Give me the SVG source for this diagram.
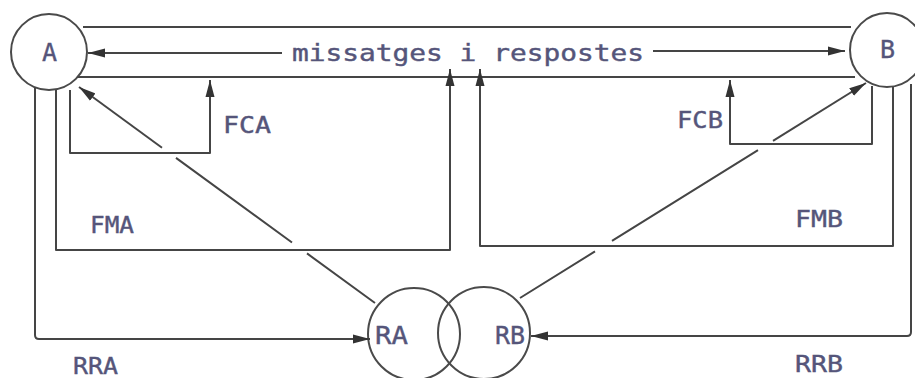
<svg xmlns="http://www.w3.org/2000/svg" width="915" height="378" viewBox="0 0 915 378">
<style>
.ln{fill:none;stroke:#454545;stroke-width:2;stroke-linejoin:round}
.nd{fill:none;stroke:#4a4a4a;stroke-width:2}
.tx{font-family:"DejaVu Sans Mono","Liberation Mono",monospace;fill:#55557a;font-size:23px;stroke:#55557a;stroke-width:0.4}
.big{font-size:25px}
</style>
<defs>
<marker id="ah" markerUnits="userSpaceOnUse" markerWidth="18" markerHeight="10" refX="17" refY="5" orient="auto">
<path d="M0,0.5 L17,5 L0,9.5 z" fill="#333"/>
</marker>
</defs>
<rect width="915" height="378" fill="#fff"/>
<g id="node-A"><circle class="nd" cx="49" cy="52" r="38"/><text class="tx big" x="49.5" y="61" text-anchor="middle">A</text></g>
<g id="node-B"><circle class="nd" cx="887" cy="50" r="37"/><text class="tx big" x="887.5" y="58" text-anchor="middle">B</text></g>
<g id="node-RA"><circle class="nd" cx="414" cy="334" r="46"/><text class="tx big" x="375" y="344" textLength="33" lengthAdjust="spacingAndGlyphs">RA</text></g>
<g id="node-RB"><circle class="nd" cx="484" cy="333" r="46"/><text class="tx big" x="495" y="344" textLength="30" lengthAdjust="spacingAndGlyphs">RB</text></g>
<g id="connectors">
<path class="ln" d="M83,27 H851"/>
<path class="ln" d="M77,77 H855"/>
<path class="ln" d="M282,53 H88" marker-end="url(#ah)"/>
<path class="ln" d="M653,51 H845" marker-end="url(#ah)"/>
<path class="ln" d="M35,87 V335 Q35,339 39,339 H370" marker-end="url(#ah)"/>
<path class="ln" d="M56,90 V250 H450 V69" marker-end="url(#ah)"/>
<path class="ln" d="M70,90 V153 H210 V80" marker-end="url(#ah)"/>
<path class="ln" d="M872,86 V144 H730 V80" marker-end="url(#ah)"/>
<path class="ln" d="M893,87 V246 H480 V69" marker-end="url(#ah)"/>
<path class="ln" d="M911,84 V332 Q911,336 907,336 H531" marker-end="url(#ah)"/>
<path class="ln" d="M375,303 L307,253.4 M292,242.5 L176,157.9"/>
<path class="ln" d="M162,147.7 L79,87" marker-end="url(#ah)"/>
<path class="ln" d="M520,298 L595,251.4 M612,240.8 L758,150.1"/>
<path class="ln" d="M773,140.8 L866,83" marker-end="url(#ah)"/>
<text class="tx" x="292" y="61" textLength="352" lengthAdjust="spacingAndGlyphs">missatges i respostes</text>
<text class="tx" x="223" y="133" textLength="48" lengthAdjust="spacingAndGlyphs">FCA</text>
<text class="tx" x="677" y="128" textLength="46" lengthAdjust="spacingAndGlyphs">FCB</text>
<text class="tx" x="90" y="233" textLength="44" lengthAdjust="spacingAndGlyphs">FMA</text>
<text class="tx" x="795" y="227" textLength="48" lengthAdjust="spacingAndGlyphs">FMB</text>
<text class="tx" x="73" y="374" textLength="45" lengthAdjust="spacingAndGlyphs">RRA</text>
<text class="tx" x="795" y="372" textLength="48" lengthAdjust="spacingAndGlyphs">RRB</text>
</g>
</svg>
